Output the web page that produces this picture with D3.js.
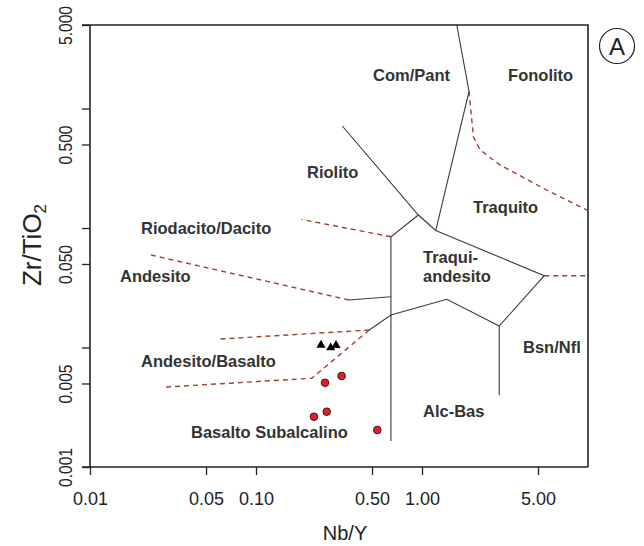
<!DOCTYPE html>
<html>
<head>
<meta charset="utf-8">
<script src="https://cdn.jsdelivr.net/npm/d3@7"></script>
<style>
  html, body { margin: 0; padding: 0; background: #fff; }
  svg { display: block; font-family: "Liberation Sans", Arial, Helvetica, sans-serif; }
</style>
</head>
<body>
<svg id="chart" width="644" height="546"></svg>
<script>
// Winchester & Floyd Zr/TiO2 vs Nb/Y classification, log–log

// Axis ticks
const xTicks = [0.01, 0.05, 0.1, 0.5, 1, 5];
const xTickLabels = ["0.01", "0.05", "0.10", "0.50", "1.00", "5.00"];
const yTicks = [0.001, 0.005, 0.01, 0.05, 0.1, 0.5, 1, 5];
const yTickLabels = ["0.001", "0.005", "", "0.050", "", "0.500", "", "5.000"];

// Field boundaries, solid, as [Nb/Y, Zr/TiO2] vertices
const solidComPant = [[1.62, 5], [1.92, 1.39], [1.21, 0.0953]];
const solidRiolito = [[0.331, 0.714], [0.951, 0.1285], [1.21, 0.0953]];
const solidRiodacito = [[0.951, 0.1285], [0.650, 0.0845], [0.650, 0.00165]];
const solidTraquito = [[1.21, 0.0953], [5.45, 0.0399], [2.92, 0.01514], [2.92, 0.004004]];
const solidAlcBas = [[2.92, 0.01514], [1.41, 0.0253], [0.650, 0.0187], [0.481, 0.0140]];
const solidAndesito = [[0.650, 0.0266], [0.363, 0.0250]];

// Field boundaries, dashed
const dashRiodacito = [[0.650, 0.0845], [0.188, 0.118]];
const dashAndesito = [[0.363, 0.0250], [0.0220, 0.0605]];
const dashAndBas = [[0.481, 0.0140], [0.0579, 0.01172]];
const dashSubalc = [[0.481, 0.0140], [0.2165, 0.00553], [0.02726, 0.00465]];
const dashFonolito = [[1.92, 1.39], [2.04, 0.581], [2.24, 0.450], [2.95, 0.337], [5.90, 0.201], [10, 0.140]];
const dashBsn = [[5.45, 0.0399], [10, 0.0399]];

// Field names and their anchor (left end of baseline)
const fieldNames = ["Com/Pant", "Fonolito", "Riolito", "Traquito", "Riodacito/Dacito", "Andesito",
  "Traqui-", "andesito", "Bsn/Nfl", "Alc-Bas", "Andesito/Basalto", "Basalto Subalcalino"];
const fieldNb = [0.507, 3.30, 0.203, 2.03, 0.0203, 0.01516, 1.014, 1.014, 4.06, 1.014, 0.0203, 0.0406];
const fieldZr = [1.70, 1.70, 0.2646, 0.1335, 0.0891, 0.0350, 0.0505, 0.0353, 0.0090, 0.00262, 0.00691, 0.001748];

// Samples
const circleNb = [0.2605, 0.328, 0.2234, 0.2667, 0.538];
const circleZr = [0.00507, 0.00578, 0.002636, 0.002903, 0.00204];
const triangleNb = [0.2464, 0.2818, 0.3034];
const triangleZr = [0.01049, 0.00996, 0.01043];

const svg = d3.select("#chart");
const plotL = 90, plotR = 588, plotT = 25, plotB = 467;

const x = d3.scaleLog().domain([0.01, 10]).range([plotL, plotR]);
const y = d3.scaleLog().domain([0.001, 5]).range([plotB, plotT]);

const ink = "#222";
const lineInk = "#3a3a3a";
const dashInk = "#a33f30";

// Frame (top and right)
svg.append("path")
  .attr("d", `M${plotL - 8},${plotT}H${plotR}V${plotB}`)
  .attr("fill", "none").attr("stroke", ink).attr("stroke-width", 1.6);

// Axes
const xAxis = d3.axisBottom(x).tickValues(xTicks).tickSize(8).tickSizeOuter(0)
  .tickFormat((d, i) => xTickLabels[i]);
const gx = svg.append("g").attr("transform", `translate(0,${plotB})`).call(xAxis);
gx.select(".domain").attr("d", `M${plotL - 8},0H${plotR}`).attr("stroke", ink).attr("stroke-width", 1.6);
gx.selectAll(".tick line").attr("stroke", ink).attr("stroke-width", 1.3);
gx.selectAll(".tick text").attr("font-size", 18).attr("fill", "#222")
  .attr("font-family", "'Liberation Sans', Arial, sans-serif").attr("y", 38).attr("dy", 0);

const yAxis = d3.axisLeft(y).tickValues(yTicks).tickSize(8).tickSizeOuter(0)
  .tickFormat((d, i) => yTickLabels[i]);
const gy = svg.append("g").attr("transform", `translate(${plotL},0)`).call(yAxis);
gy.select(".domain").attr("d", `M0,${plotT}V${plotB}`).attr("stroke", ink).attr("stroke-width", 1.6);
gy.selectAll(".tick line").attr("stroke", ink).attr("stroke-width", 1.3);
gy.selectAll(".tick text")
  .attr("font-size", 18).attr("fill", "#222")
  .attr("font-family", "'Liberation Sans', Arial, sans-serif")
  .attr("x", 0).attr("dy", 0)
  .attr("text-anchor", "middle")
  .attr("transform", "translate(-18,0) rotate(-90)")
  .each(function () {
    const t = d3.select(this);
    if (t.text().length) t.attr("textLength", 39).attr("lengthAdjust", "spacingAndGlyphs");
  });

// Axis titles
svg.append("text")
  .attr("x", 345).attr("y", 540)
  .attr("text-anchor", "middle")
  .attr("font-size", 20).attr("fill", "#222")
  .text("Nb/Y");

const yTitle = svg.append("text")
  .attr("transform", "translate(41,245) rotate(-90)")
  .attr("text-anchor", "middle")
  .attr("font-size", 26).attr("fill", "#222");
yTitle.append("tspan").text("Zr/TiO");
yTitle.append("tspan").attr("font-size", 17).attr("dy", 5).text("2");

// Boundary lines
const line = d3.line().x(d => x(d[0])).y(d => y(d[1]));
const solids = [solidComPant, solidRiolito, solidRiodacito, solidTraquito, solidAlcBas, solidAndesito];
const dashes = [dashRiodacito, dashAndesito, dashAndBas, dashSubalc, dashFonolito, dashBsn];

svg.append("g").selectAll("path").data(dashes).join("path")
  .attr("d", line).attr("fill", "none")
  .attr("stroke", dashInk).attr("stroke-width", 1.4)
  .attr("stroke-dasharray", "5,4");

svg.append("g").selectAll("path").data(solids).join("path")
  .attr("d", line).attr("fill", "none")
  .attr("stroke", lineInk).attr("stroke-width", 1.1)
  .attr("stroke-linejoin", "miter");

// Field names
svg.append("g").selectAll("text").data(fieldNames).join("text")
  .attr("x", (d, i) => x(fieldNb[i]))
  .attr("y", (d, i) => y(fieldZr[i]))
  .attr("font-size", 16.5).attr("font-weight", "bold").attr("fill", "#333")
  .text(d => d);

// Samples: triangles
svg.append("g").selectAll("path").data(triangleNb).join("path")
  .attr("transform", (d, i) => `translate(${x(d)},${y(triangleZr[i])})`)
  .attr("d", d3.symbol(d3.symbolTriangle, 36))
  .attr("fill", "#000");

// Samples: circles
svg.append("g").selectAll("circle").data(circleNb).join("circle")
  .attr("cx", d => x(d))
  .attr("cy", (d, i) => y(circleZr[i]))
  .attr("r", 3.8)
  .attr("fill", "#e3202a").attr("stroke", "#3a1414").attr("stroke-width", 1);

// Panel letter
svg.append("circle").attr("cx", 617).attr("cy", 46).attr("r", 17.5)
  .attr("fill", "none").attr("stroke", ink).attr("stroke-width", 1.2);
svg.append("text").attr("x", 617).attr("y", 54.5)
  .attr("text-anchor", "middle").attr("font-size", 24).attr("fill", ink)
  .text("A");
</script>
</body>
</html>
